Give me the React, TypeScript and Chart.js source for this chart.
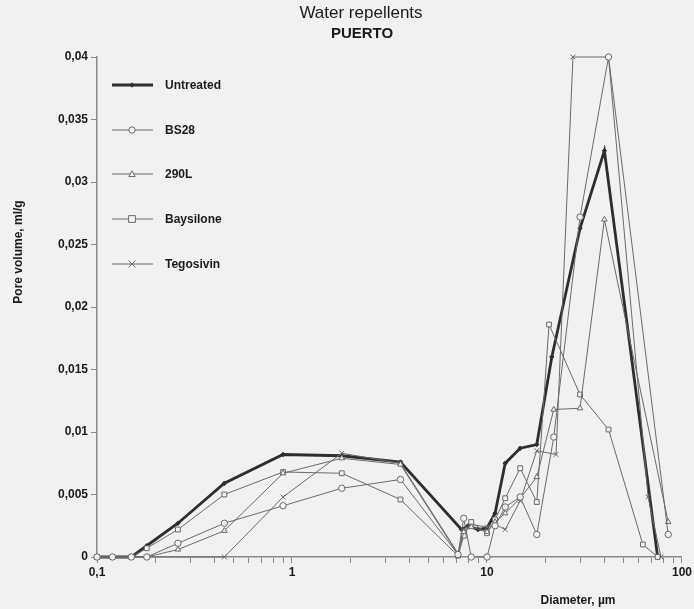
import { useEffect, useRef } from 'react';
import { Chart, registerables } from 'chart.js';
Chart.register(...registerables);

const titleText = 'Water repellents';
const subtitleText = 'PUERTO';
const yAxisTitle = 'Pore volume, ml/g';
const xAxisTitle = 'Diameter, \u00b5m';
const seriesNames = ['Untreated', 'BS28', '290L', 'Baysilone', 'Tegosivin'];

const untreatedD = [0.1, 0.12, 0.15, 0.18, 0.26, 0.45, 0.9, 1.8, 3.6, 7.4, 8.0, 9.0, 10, 11, 12.4, 14.8, 18, 21.5, 30, 40, 75];
const untreatedV = [0, 0, 0, 0.0009, 0.0027, 0.0059, 0.0082, 0.0081, 0.0076, 0.0022, 0.0025, 0.0022, 0.0023, 0.0035, 0.0075, 0.0087, 0.009, 0.016, 0.0263, 0.0325, 0];

const bs28D = [0.1, 0.12, 0.15, 0.18, 0.26, 0.45, 0.9, 1.8, 3.6, 7.1, 7.6, 8.3, 10, 11, 12.4, 14.8, 18, 22, 30, 42, 85];
const bs28V = [0, 0, 0, 0, 0.0011, 0.0027, 0.0041, 0.0055, 0.0062, 0.0002, 0.0031, 0, 0, 0.0025, 0.004, 0.0048, 0.0018, 0.0096, 0.0272, 0.04, 0.0018];

const l290D = [0.1, 0.12, 0.15, 0.18, 0.26, 0.45, 0.9, 1.8, 3.6, 7.1, 7.6, 8.3, 10, 11, 12.4, 14.8, 18, 22, 30, 40, 85];
const l290V = [0, 0, 0, 0, 0.0006, 0.0021, 0.0067, 0.0079, 0.0074, 0.0002, 0.002, 0.0024, 0.002, 0.0028, 0.0035, 0.0047, 0.0064, 0.0118, 0.0119, 0.027, 0.0028];

const baysD = [0.1, 0.12, 0.15, 0.18, 0.26, 0.45, 0.9, 1.8, 3.6, 7.1, 7.6, 8.3, 10, 11, 12.4, 14.8, 18, 20.8, 30, 42, 63, 75];
const baysV = [0, 0, 0, 0.0007, 0.0022, 0.005, 0.0068, 0.0067, 0.0046, 0.0001, 0.0017, 0.0028, 0.0019, 0.003, 0.0047, 0.0071, 0.0044, 0.0186, 0.013, 0.0102, 0.001, 0];

const tegoD = [0.1, 0.45, 0.9, 1.8, 3.6, 7.1, 7.6, 8.3, 10, 11, 12.4, 14.8, 18, 22.6, 27.6, 42, 67, 78];
const tegoV = [0, 0, 0.0048, 0.0083, 0.0075, 0.0003, 0.0022, 0.0026, 0.0024, 0.0026, 0.0022, 0.0045, 0.0085, 0.0082, 0.04, 0.04, 0.0048, 0];

const xMajorLabels = [0.1, 1, 10, 100];
const yMin = 0;
const yMax = 0.04;
const yStep = 0.005;

const toPts = (d: number[], v: number[]) => d.map((x, i) => ({ x, y: v[i] }));
const fmt = (v: number) => String(Number(v.toFixed(4))).replace('.', ',');

const lineGrey = '#6a6a6a';
const darkLine = '#2e2e2e';
const bg = '#f1f1f1';

const styles = [
  { color: darkLine, width: 2.8, point: 'rectRot', radius: 2.2, fill: darkLine },
  { color: lineGrey, width: 1, point: 'circle', radius: 3.2, fill: bg },
  { color: lineGrey, width: 1, point: 'triangle', radius: 3.2, fill: bg },
  { color: lineGrey, width: 1, point: 'rect', radius: 3.4, fill: bg },
  { color: lineGrey, width: 1, point: 'crossRot', radius: 3.4, fill: bg },
];

function drawMarker(ctx: CanvasRenderingContext2D, kind: string, x: number, y: number, r: number) {
  ctx.beginPath();
  if (kind === 'circle') {
    ctx.arc(x, y, r, 0, Math.PI * 2);
    ctx.fill();
    ctx.stroke();
  } else if (kind === 'rect') {
    ctx.rect(x - r, y - r, 2 * r, 2 * r);
    ctx.fill();
    ctx.stroke();
  } else if (kind === 'triangle') {
    ctx.moveTo(x, y - r);
    ctx.lineTo(x + r, y + r * 0.8);
    ctx.lineTo(x - r, y + r * 0.8);
    ctx.closePath();
    ctx.fill();
    ctx.stroke();
  } else if (kind === 'rectRot') {
    ctx.moveTo(x, y - r);
    ctx.lineTo(x + r, y);
    ctx.lineTo(x, y + r);
    ctx.lineTo(x - r, y);
    ctx.closePath();
    ctx.fill();
    ctx.stroke();
  } else {
    ctx.moveTo(x - r, y - r);
    ctx.lineTo(x + r, y + r);
    ctx.moveTo(x + r, y - r);
    ctx.lineTo(x - r, y + r);
    ctx.stroke();
  }
}

const decorPlugin = {
  id: 'decor',
  beforeDraw(chart: any) {
    const ctx = chart.ctx as CanvasRenderingContext2D;
    ctx.save();
    ctx.fillStyle = bg;
    ctx.fillRect(0, 0, chart.width, chart.height);
    ctx.restore();
  },
  afterDraw(chart: any) {
    const ctx = chart.ctx as CanvasRenderingContext2D;
    ctx.save();
    ctx.fillStyle = '#1a1a1a';
    ctx.textAlign = 'center';
    ctx.textBaseline = 'middle';
    ctx.font = '500 17px "Liberation Sans", Arial, sans-serif';
    ctx.fillText(titleText, 361, 13);
    ctx.font = 'bold 15px "Liberation Sans", Arial, sans-serif';
    ctx.fillText(subtitleText, 362, 34);

    ctx.font = 'bold 12px "Liberation Sans", Arial, sans-serif';
    ctx.fillText(xAxisTitle, 578, 601);
    ctx.save();
    ctx.translate(19, 252);
    ctx.rotate(-Math.PI / 2);
    ctx.fillText(yAxisTitle, 0, 0);
    ctx.restore();

    // legend
    const ys = [85, 130, 174, 219, 264];
    ctx.textAlign = 'left';
    ctx.font = 'bold 12px "Liberation Sans", Arial, sans-serif';
    seriesNames.forEach((name, i) => {
      const s = styles[i];
      const y = ys[i];
      ctx.strokeStyle = s.color;
      ctx.lineWidth = s.width;
      ctx.beginPath();
      ctx.moveTo(112, y);
      ctx.lineTo(153, y);
      ctx.stroke();
      ctx.lineWidth = 1;
      ctx.fillStyle = s.fill;
      drawMarker(ctx, s.point, 132, y, s.radius);
      ctx.fillStyle = '#1a1a1a';
      ctx.fillText(name, 165, y + 1);
    });
    ctx.restore();
  },
};

export default function App() {
  const ref = useRef<HTMLCanvasElement | null>(null);
  useEffect(() => {
    if (!ref.current) return;
    const all = [
      toPts(untreatedD, untreatedV),
      toPts(bs28D, bs28V),
      toPts(l290D, l290V),
      toPts(baysD, baysV),
      toPts(tegoD, tegoV),
    ];
    const order = [1, 2, 3, 4, 0];
    const datasets = order.map((i) => ({
      label: seriesNames[i],
      data: all[i],
      borderColor: styles[i].color,
      borderWidth: styles[i].width,
      pointStyle: styles[i].point as any,
      pointRadius: styles[i].radius,
      pointBorderWidth: 1,
      pointBorderColor: styles[i].color,
      pointBackgroundColor: styles[i].fill,
      tension: 0,
      fill: false,
      clip: 6,
    }));
    const tickFont = { family: '"Liberation Sans", Arial, sans-serif', size: 12, weight: 'bold' as const };
    const chart = new Chart(ref.current, {
      type: 'line',
      data: { datasets },
      plugins: [decorPlugin],
      options: {
        animation: false,
        responsive: false,
        maintainAspectRatio: false,
        layout: { padding: { left: 0, top: 57, right: 12, bottom: 0 } },
        plugins: { legend: { display: false }, title: { display: false }, tooltip: { enabled: false } },
        scales: {
          x: {
            type: 'logarithmic',
            min: 0.1,
            max: 100,
            afterBuildTicks: (scale: any) => {
              const t: any[] = [];
              for (let p = -1; p < 2; p++) {
                for (let k = 1; k < 10; k++) t.push({ value: Number((k * Math.pow(10, p)).toFixed(3)) });
              }
              t.push({ value: 100 });
              scale.ticks = t;
            },
            afterFit: (scale: any) => {
              scale.height = 52;
            },
            ticks: {
              autoSkip: false,
              maxRotation: 0,
              padding: 2,
              color: '#1a1a1a',
              font: tickFont,
              callback: (v: any) => (xMajorLabels.includes(Number(v)) ? fmt(Number(v)) : ''),
            },
            grid: { display: true, drawOnChartArea: false, drawTicks: true, tickLength: 6, color: '#8a8a8a' },
            border: { display: true, color: '#8a8a8a', width: 1.5 },
          },
          y: {
            type: 'linear',
            min: yMin,
            max: yMax,
            afterFit: (scale: any) => {
              scale.width = 97;
            },
            ticks: {
              stepSize: yStep,
              padding: 3,
              color: '#1a1a1a',
              font: tickFont,
              callback: (v: any) => fmt(Number(v)),
            },
            grid: { display: true, drawOnChartArea: false, drawTicks: true, tickLength: 6, color: '#8a8a8a' },
            border: { display: true, color: '#8a8a8a', width: 1.5 },
          },
        },
      },
    });
    return () => chart.destroy();
  }, []);
  return (
    <div style={{ position: 'fixed', left: 0, top: 0, width: 694, height: 609, background: bg }}>
      <canvas ref={ref} width={694} height={609} style={{ width: 694, height: 609, display: 'block' }} />
    </div>
  );
}
